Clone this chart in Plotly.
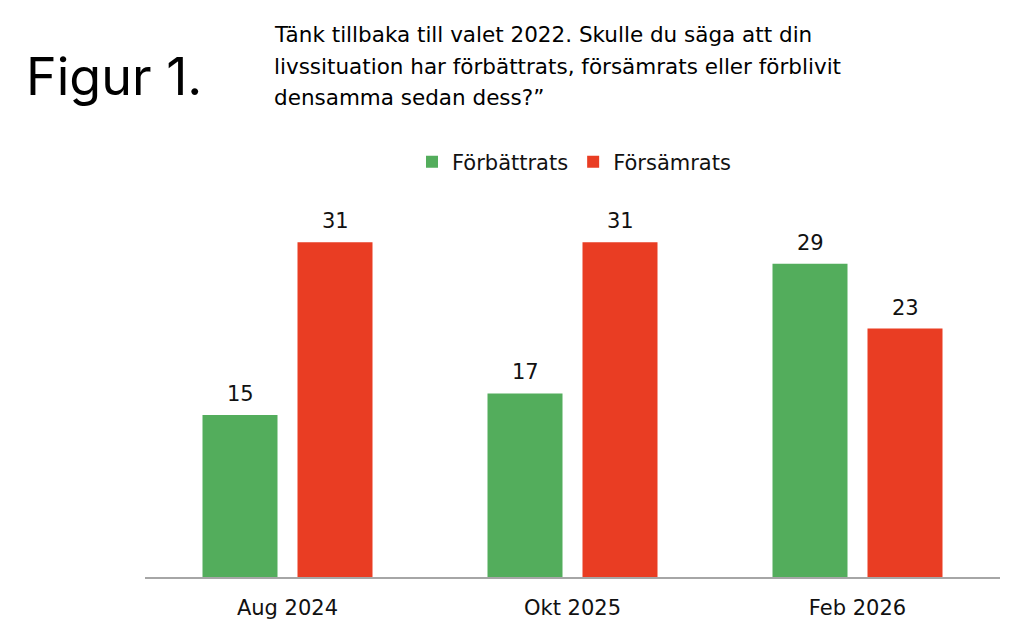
import plotly.graph_objects as go

categories = ["Aug 2024", "Okt 2025", "Feb 2026"]
series_names = ["Förbättrats", "Försämrats"]
forbattrats = [15, 17, 29]
forsamrats = [31, 31, 23]
title_text = "Figur 1."
subtitle_lines = [
    "Tänk tillbaka till valet 2022. Skulle du säga att din",
    "livssituation har förbättrats, försämrats eller förblivit",
    "densamma sedan dess?”",
]

GREEN = "#53AD5C"
RED = "#E93D23"
FONT = "Inter, Liberation Sans, Arial, sans-serif"
FONT2 = "DejaVu Sans, Open Sans, Arial, sans-serif"

OFF = 8  # page body offset
W, H = 1024, 640
ML, MR, MT, MB = 145 - OFF, 24 + OFF, 199 - OFF, 63 + OFF
PW = W - ML - MR
PH = H - MT - MB

fig = go.Figure()
for name, vals, col in zip(series_names, [forbattrats, forsamrats], [GREEN, RED]):
    fig.add_bar(x=categories, y=vals, name=name, marker_color=col,
                marker_line_width=0)

bargap = 1 / 3
bargroupgap = 0.2105
slot = PW / len(categories)
sub = slot * (1 - bargap) / 2
offsets = [-sub / 2, sub / 2]

annotations = []
for vals, off in zip([forbattrats, forsamrats], offsets):
    for cat, v in zip(categories, vals):
        annotations.append(dict(x=cat, y=v, xref="x", yref="y", text=str(v),
                                showarrow=False, xshift=off, yanchor="bottom",
                                yshift=7, font=dict(size=21, color="#111111", family=FONT2)))

def py(ypix):
    return (H - MB - (ypix - OFF)) / PH

def px(xpix):
    return (xpix - OFF - ML) / PW

annotations.append(dict(x=px(24), y=py(77), xref="paper", yref="paper", text=title_text,
                        showarrow=False, xanchor="left", yanchor="middle",
                        font=dict(size=52, color="#000000", family=FONT)))
for i, line in enumerate(subtitle_lines):
    annotations.append(dict(x=px(272), y=py(35 + 31 * i), xref="paper", yref="paper",
                            text=line, showarrow=False, xanchor="left", yanchor="middle",
                            font=dict(size=21.5, color="#000000", family=FONT2)))

fig.update_layout(
    width=W, height=H,
    margin=dict(l=ML, r=MR, t=MT, b=MB, pad=0),
    paper_bgcolor="white", plot_bgcolor="white",
    barmode="group", bargap=bargap, bargroupgap=bargroupgap,
    font=dict(family=FONT2, color="#111111"),
    showlegend=True,
    legend=dict(orientation="h", x=px(574), xanchor="center", y=py(162), yanchor="middle",
                font=dict(size=21, color="#111111", family=FONT2),
                itemwidth=30, traceorder="normal", bgcolor="rgba(0,0,0,0)"),
    annotations=annotations,
    xaxis=dict(showline=True, linecolor="#A6A6A6", linewidth=1.5, showgrid=False,
               ticks="", tickfont=dict(size=21, color="#111111", family=FONT2),
               ticklabelstandoff=11),
    yaxis=dict(range=[0, PH / 10.8], showgrid=False, showticklabels=False,
               zeroline=False, showline=False, fixedrange=True),
)

fig.write_html("out.html")
